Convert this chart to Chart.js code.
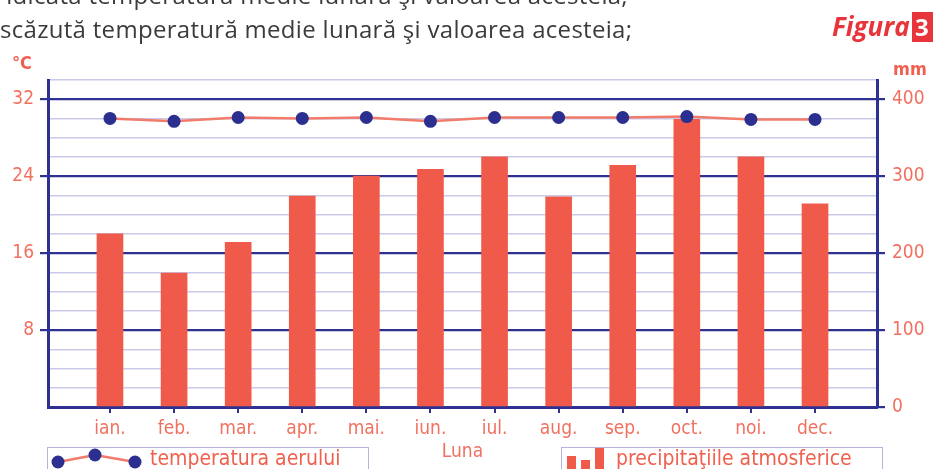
<!DOCTYPE html>
<html>
<head>
<meta charset="utf-8">
<script src="https://cdn.jsdelivr.net/npm/chart.js@4.4.1/dist/chart.umd.min.js"></script>
<style>
  html, body { margin: 0; padding: 0; background: #fff; }
  #wrap { position: relative; width: 933px; height: 469px; overflow: hidden; }
  #chartCanvas { position: absolute; left: 0; top: 0; }
  .txt { position: absolute; white-space: nowrap; font-family: 'Open Sans', sans-serif; color: #3b3b3b; font-size: 24px; letter-spacing: 0.3px; }
  .unit { position: absolute; font-family: 'Liberation Sans Narrow', 'DejaVu Sans Condensed', 'Roboto', sans-serif; color: #f0604f; font-weight: bold; font-size: 18px; }
  .fig { position: absolute; font-family: 'Open Sans', sans-serif; font-style: italic; font-weight: bold; color: #e8353b; font-size: 26px; }
  .figbox { position: absolute; background: #e8353b; color: #fff; font-family: 'Open Sans', sans-serif; font-weight: bold; font-size: 24px; line-height: 30px; padding-left: 3px; }
  .legbox { position: absolute; border: 1.5px solid #b3b3dc; height: 40px; }
  .legtxt { position: absolute; font-family: 'Liberation Sans Narrow', 'DejaVu Sans Condensed', 'Roboto', sans-serif; color: #f0604f; font-size: 21px; }
  #icons { position: absolute; left: 0; top: 0; pointer-events: none; }
</style>
</head>
<body>
<div id="wrap">
  <canvas id="chartCanvas" width="933" height="469"></canvas>

  <div class="txt" style="right:305px; top:-22px;">idicată temperatură medie lunară şi valoarea acesteia;</div>
  <div class="txt" style="left:0; top:12px;">scăzută temperatură medie lunară şi valoarea acesteia;</div>
  <div class="fig" style="left:832px; top:8px;">Figura</div>
  <div class="figbox" style="left:912px; top:12px; width:30px; height:30px;">3</div>

  <div class="unit" style="left:12px; top:52px;">°C</div>
  <div class="unit" style="left:893px; top:58px;">mm</div>

  <div class="legbox" style="left:47px; top:447px; width:320px;"></div>
  <div class="legbox" style="left:561px; top:447px; width:320px;"></div>
  <div class="legtxt" style="left:150px; top:446px;">temperatura aerului</div>
  <div class="legtxt" style="left:616px; top:446px;">precipitaţiile atmosferice</div>

  <svg id="icons" width="933" height="469">
    <polyline points="58,462 95,455 135,462" fill="none" stroke="#f37b6b" stroke-width="2.5"/>
    <circle cx="58" cy="462" r="6.5" fill="#2b2f8f"/>
    <circle cx="95" cy="455" r="6.5" fill="#2b2f8f"/>
    <circle cx="135" cy="462" r="6.5" fill="#2b2f8f"/>
    <rect x="567" y="456" width="9" height="20" fill="#ef5a4b"/>
    <rect x="581" y="460" width="9" height="20" fill="#ef5a4b"/>
    <rect x="595" y="448" width="9" height="30" fill="#ef5a4b"/>
  </svg>
</div>

<script>
const months = ['ian.', 'feb.', 'mar.', 'apr.', 'mai.', 'iun.', 'iul.', 'aug.', 'sep.', 'oct.', 'noi.', 'dec.'];
const temperature = [30.0, 29.7, 30.1, 30.0, 30.1, 29.7, 30.1, 30.1, 30.1, 30.2, 29.9, 29.9];
const precipitation = [225, 174, 214, 274, 300, 309, 325, 273, 314, 374, 325, 264];
const tempTicks = [8, 16, 24, 32];
const precTicks = [0, 100, 200, 300, 400];

const navy = '#2e3192';
const lavender = '#c9c9e9';
const salmon = '#f2705f';
const labelFont = { family: "'Liberation Sans Narrow', 'DejaVu Sans Condensed', 'Roboto', sans-serif", size: 19 };

const ctx = document.getElementById('chartCanvas').getContext('2d');

new Chart(ctx, {
    type: 'bar',
    data: {
        datasets: [
            {
                type: 'line',
                label: 'temperatura aerului',
                data: temperature.map((v, i) => ({ x: i, y: v })),
                yAxisID: 'yT',
                borderColor: '#f37b6b',
                borderWidth: 2.5,
                pointRadius: 6.5,
                pointBackgroundColor: '#2b2f8f',
                pointBorderWidth: 0,
                tension: 0,
                order: 0
            },
            {
                type: 'bar',
                label: 'precipitaţiile atmosferice',
                data: precipitation.map((v, i) => ({ x: i, y: v })),
                yAxisID: 'yP',
                backgroundColor: '#ef5a4b',
                barThickness: 26,
                order: 1
            }
        ]
    },
    options: {
        responsive: false,
        animation: false,
        layout: { padding: { top: 80, left: 0, right: 0, bottom: 0 } },
        plugins: { legend: { display: false }, tooltip: { enabled: false } },
        scales: {
            x: {
                type: 'linear',
                position: 'bottom',
                offset: false,
                min: -0.967,
                max: 11.967,
                afterFit: s => { s.height = 62; },
                border: { color: navy, width: 3 },
                grid: { offset: false, drawOnChartArea: false, color: navy, tickLength: 6, lineWidth: 2 },
                ticks: {
                    stepSize: 1,
                    includeBounds: false,
                    color: salmon,
                    font: labelFont,
                    padding: 5,
                    maxRotation: 0,
                    autoSkip: false,
                    callback: v => months[v] ?? ''
                },
                title: {
                    display: true,
                    text: 'Luna',
                    color: salmon,
                    font: labelFont,
                    padding: { top: 0, bottom: 6 }
                }
            },
            yT: {
                type: 'linear',
                position: 'left',
                min: 0,
                max: 34,
                afterFit: s => { s.width = 48; },
                border: { color: navy, width: 3 },
                grid: {
                    color: c => tempTicks.includes(c.tick.value) ? navy : lavender,
                    lineWidth: c => tempTicks.includes(c.tick.value) ? 2.2 : 1.5,
                    tickColor: c => tempTicks.includes(c.tick.value) ? navy : 'rgba(0,0,0,0)',
                    tickLength: 8
                },
                ticks: {
                    stepSize: 2,
                    maxTicksLimit: 40,
                    autoSkip: false,
                    color: salmon,
                    font: labelFont,
                    padding: 6,
                    callback: v => tempTicks.includes(v) ? String(v) : ''
                }
            },
            yP: {
                type: 'linear',
                position: 'right',
                min: 0,
                max: 425,
                afterFit: s => { s.width = 56; },
                border: { color: navy, width: 3 },
                grid: { drawOnChartArea: false, color: navy, tickLength: 8, lineWidth: 2.2 },
                ticks: {
                    stepSize: 100,
                    includeBounds: false,
                    color: salmon,
                    font: labelFont,
                    padding: 7,
                    callback: v => precTicks.includes(v) ? String(v) : ''
                }
            }
        }
    }
});
</script>
</body>
</html>
